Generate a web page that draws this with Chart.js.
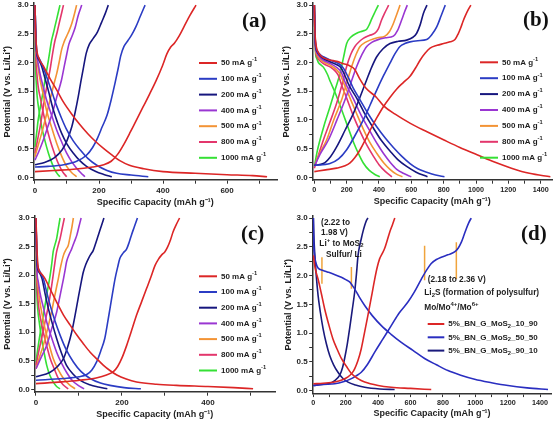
<!DOCTYPE html>
<html lang="en">
<head>
<meta charset="UTF-8">
<title>Charge / discharge profiles</title>
<script src="https://cdn.jsdelivr.net/npm/chart.js"></script>
<style>
  body { margin: 0; background: #fff; }
  canvas { position: absolute; }
</style>
</head>
<body>
<canvas id="chartA" width="278" height="210" style="left:0;top:0"></canvas>
<canvas id="chartB" width="278" height="210" style="left:278px;top:0"></canvas>
<canvas id="chartC" width="278" height="212" style="left:0;top:211px"></canvas>
<canvas id="chartD" width="278" height="212" style="left:278px;top:211px"></canvas>
<script>
// current densities (mA g-1), same order in every panel
const rates = ['50', '100', '200', '400', '500', '800', '1000'];
const rateColors = ['#dc2626', '#2b3cc4', '#16167e', '#9a36d2', '#f39335', '#e3366c', '#35e035'];

// curves are [capacity (mAh/g), potential (V)]
const aCharge = [
  [[0,0.10],[60,0.12],[120,0.14],[180,0.18],[215,0.22],[238,0.28],[258,0.40],[278,0.58],[298,0.79],[318,1.01],[338,1.23],[358,1.45],[378,1.68],[398,1.94],[412,2.15],[424,2.27],[436,2.34],[450,2.46],[466,2.63],[484,2.82],[503,3.0]],
  [[0,0.18],[40,0.19],[90,0.22],[130,0.28],[160,0.38],[180,0.52],[195,0.68],[210,0.88],[225,1.08],[238,1.35],[250,1.64],[260,1.90],[268,2.12],[278,2.28],[290,2.38],[302,2.48],[315,2.62],[330,2.82],[344,3.0]],
  [[0,0.22],[30,0.26],[60,0.34],[85,0.48],[100,0.64],[115,0.88],[125,1.12],[135,1.40],[143,1.66],[152,1.93],[160,2.16],[170,2.32],[182,2.42],[195,2.53],[208,2.70],[220,2.86],[229,3.0]],
  [[0,0.30],[12,0.45],[26,0.65],[40,0.88],[57,1.17],[70,1.44],[83,1.70],[92,1.95],[99,2.14],[106,2.32],[115,2.45],[125,2.60],[135,2.82],[146,3.0]],
  [[0,0.36],[10,0.56],[21,0.77],[34,1.05],[47,1.35],[58,1.60],[68,1.81],[76,2.02],[83,2.22],[91,2.36],[99,2.46],[107,2.56],[115,2.68],[123,2.84],[130,3.0]],
  [[0,0.42],[8,0.65],[16,0.88],[24,1.15],[31,1.40],[39,1.64],[47,1.87],[52,2.05],[57,2.22],[62,2.37],[68,2.50],[73,2.62],[78,2.74],[84,2.88],[89,3.0]],
  [[0,0.53],[5,0.76],[10,1.0],[18,1.26],[26,1.52],[34,1.78],[42,2.04],[47,2.22],[52,2.39],[57,2.50],[62,2.62],[68,2.76],[73,2.88],[78,3.0]]
];
const aDischarge = [
  [[0,3.0],[2,2.55],[5,2.25],[12,2.08],[26,1.94],[47,1.72],[70,1.50],[90,1.30],[115,1.10],[140,0.92],[165,0.76],[190,0.62],[215,0.50],[240,0.39],[265,0.29],[295,0.21],[340,0.15],[400,0.10],[500,0.07],[600,0.045],[680,0.03],[725,0.01]],
  [[0,3.0],[2,2.6],[5,2.2],[12,2.08],[21,1.98],[32,1.82],[42,1.66],[55,1.45],[68,1.24],[83,1.03],[99,0.83],[120,0.63],[141,0.48],[165,0.33],[193,0.21],[225,0.12],[255,0.07],[300,0.04],[354,0.01]],
  [[0,3.0],[2,2.6],[5,2.2],[12,2.05],[21,1.93],[30,1.75],[40,1.55],[57,1.18],[70,0.96],[83,0.77],[100,0.58],[120,0.42],[140,0.29],[161,0.19],[190,0.10],[215,0.05],[240,0.01]],
  [[0,3.0],[1,2.6],[5,2.16],[10,1.98],[16,1.80],[26,1.57],[36,1.35],[52,1.08],[68,0.82],[83,0.62],[99,0.42],[115,0.27],[130,0.16],[143,0.08],[156,0.01]],
  [[0,3.0],[1,2.6],[5,2.10],[10,1.90],[16,1.70],[26,1.44],[36,1.17],[52,0.87],[68,0.59],[84,0.36],[99,0.19],[115,0.08],[130,0.01]],
  [[0,3.0],[1,2.5],[3,2.04],[6,1.80],[10,1.58],[18,1.35],[26,1.12],[36,0.88],[47,0.65],[60,0.43],[73,0.24],[86,0.10],[99,0.01]],
  [[0,3.0],[1,2.4],[2,1.93],[4,1.65],[7,1.40],[13,1.15],[21,0.88],[31,0.64],[42,0.42],[52,0.26],[62,0.13],[70,0.06],[78,0.01]]
];

const bCharge = [
  [[0,0.10],[70,0.13],[138,0.16],[190,0.20],[221,0.25],[250,0.34],[283,0.48],[315,0.65],[345,0.82],[385,1.03],[427,1.23],[470,1.40],[510,1.54],[550,1.65],[592,1.76],[625,1.90],[654,2.04],[685,2.16],[716,2.25],[760,2.30],[800,2.33],[840,2.36],[870,2.40],[890,2.50],[905,2.60],[920,2.72],[935,2.82],[952,2.92],[968,3.0]],
  [[0,0.21],[97,0.24],[150,0.32],[200,0.48],[250,0.72],[303,1.0],[345,1.26],[386,1.52],[428,1.77],[468,1.99],[500,2.16],[530,2.28],[560,2.33],[592,2.36],[640,2.38],[695,2.40],[725,2.48],[757,2.62],[785,2.82],[810,3.0]],
  [[0,0.21],[56,0.24],[100,0.36],[138,0.53],[190,0.82],[241,1.11],[283,1.40],[324,1.70],[355,1.92],[386,2.10],[425,2.24],[468,2.33],[520,2.37],[571,2.39],[610,2.44],[633,2.51],[655,2.66],[675,2.86],[697,3.0]],
  [[0,0.19],[35,0.40],[87,0.65],[140,1.0],[190,1.35],[228,1.66],[262,1.93],[295,2.14],[324,2.28],[355,2.35],[386,2.39],[440,2.43],[489,2.46],[515,2.56],[540,2.74],[558,2.88],[575,3.0]],
  [[0,0.19],[30,0.40],[76,0.65],[120,1.0],[169,1.35],[200,1.64],[231,1.93],[258,2.14],[283,2.28],[315,2.35],[345,2.39],[390,2.43],[437,2.46],[465,2.54],[489,2.68],[510,2.84],[530,3.0]],
  [[0,0.16],[20,0.34],[56,0.65],[95,0.95],[138,1.29],[170,1.60],[200,1.93],[225,2.14],[251,2.28],[280,2.37],[303,2.42],[340,2.47],[375,2.51],[395,2.58],[416,2.74],[435,2.86],[460,3.0]],
  [[0,0.19],[10,0.34],[20,0.48],[35,0.65],[60,0.90],[97,1.23],[128,1.52],[159,1.81],[180,2.08],[200,2.33],[225,2.44],[262,2.51],[300,2.55],[324,2.58],[340,2.66],[355,2.76],[375,2.88],[396,3.0]]
];
const bDischarge = [
  [[0,3.0],[3,2.6],[10,2.32],[20,2.2],[46,2.1],[90,2.05],[138,2.02],[180,1.98],[221,1.94],[250,1.88],[280,1.72],[320,1.55],[382,1.40],[427,1.25],[500,1.10],[594,0.94],[700,0.79],[802,0.65],[900,0.52],[1010,0.39],[1110,0.27],[1219,0.16],[1330,0.07],[1460,0.01]],
  [[0,3.0],[3,2.6],[8,2.3],[15,2.22],[35,2.14],[56,2.10],[100,2.04],[138,2.0],[165,1.95],[185,1.88],[210,1.74],[240,1.56],[283,1.35],[330,1.12],[386,0.88],[440,0.68],[489,0.52],[540,0.37],[592,0.24],[640,0.15],[695,0.09],[750,0.04],[805,0.01]],
  [[0,3.0],[3,2.6],[8,2.28],[15,2.20],[35,2.12],[56,2.07],[100,2.01],[140,1.96],[165,1.91],[185,1.80],[215,1.60],[262,1.38],[310,1.12],[365,0.86],[415,0.64],[468,0.46],[520,0.30],[571,0.19],[630,0.09],[700,0.01]],
  [[0,3.0],[3,2.6],[8,2.25],[15,2.17],[35,2.09],[56,2.04],[100,1.98],[140,1.91],[165,1.84],[190,1.66],[241,1.37],[290,1.08],[345,0.80],[390,0.58],[427,0.42],[470,0.26],[510,0.14],[550,0.07],[600,0.01]],
  [[0,3.0],[3,2.6],[8,2.22],[15,2.14],[35,2.06],[56,2.01],[100,1.95],[135,1.88],[159,1.80],[185,1.62],[221,1.38],[260,1.12],[303,0.84],[345,0.60],[386,0.42],[430,0.25],[468,0.14],[505,0.06],[545,0.01]],
  [[0,3.0],[3,2.6],[8,2.20],[15,2.11],[35,2.03],[56,1.98],[100,1.92],[130,1.85],[148,1.78],[170,1.60],[200,1.38],[240,1.08],[283,0.80],[325,0.56],[365,0.37],[400,0.22],[440,0.10],[480,0.01]],
  [[0,3.0],[3,2.6],[8,2.15],[15,2.07],[25,2.0],[40,1.96],[56,1.92],[80,1.80],[100,1.66],[125,1.50],[150,1.32],[179,1.10],[210,0.86],[241,0.62],[272,0.42],[303,0.25],[340,0.12],[375,0.05],[405,0.01]]
];

const cCharge = [
  [[0,0.10],[60,0.13],[102,0.16],[140,0.20],[164,0.25],[180,0.31],[190,0.40],[200,0.55],[211,0.77],[222,1.02],[234,1.30],[246,1.54],[257,1.76],[268,1.98],[277,2.17],[285,2.28],[292,2.35],[300,2.41],[306,2.49],[313,2.62],[319,2.76],[326,2.88],[334,3.0]],
  [[0,0.16],[64,0.19],[100,0.22],[118,0.26],[130,0.34],[141,0.48],[151,0.68],[160,0.89],[166,1.14],[172,1.41],[178,1.68],[184,1.94],[190,2.14],[195,2.29],[203,2.39],[211,2.46],[217,2.58],[222,2.70],[229,2.85],[236,3.0]],
  [[0,0.22],[33,0.30],[50,0.40],[64,0.54],[74,0.75],[83,1.0],[91,1.30],[98,1.59],[104,1.83],[110,2.05],[116,2.19],[122,2.29],[128,2.37],[133,2.43],[139,2.56],[145,2.70],[152,2.86],[158,3.0]],
  [[0,0.36],[12,0.56],[25,0.77],[36,1.05],[48,1.35],[56,1.64],[64,1.94],[68,2.10],[71,2.23],[77,2.36],[83,2.46],[89,2.58],[95,2.70],[100,2.85],[105,3.0]],
  [[0,0.36],[8,0.56],[17,0.77],[27,1.06],[36,1.35],[44,1.65],[52,1.94],[58,2.17],[64,2.35],[70,2.45],[75,2.52],[80,2.70],[84,2.86],[87,3.0]],
  [[0,0.42],[6,0.65],[13,0.89],[21,1.18],[29,1.47],[35,1.74],[40,2.0],[44,2.22],[48,2.41],[52,2.53],[56,2.64],[61,2.82],[66,3.0]],
  [[0,0.48],[4,0.70],[9,0.95],[15,1.21],[21,1.47],[27,1.74],[33,2.0],[37,2.22],[40,2.41],[44,2.53],[48,2.64],[52,2.82],[56,3.0]]
];
const cDischarge = [
  [[0,3.0],[2,2.5],[5,2.14],[12,2.03],[21,1.94],[30,1.80],[40,1.65],[52,1.47],[64,1.30],[80,1.12],[95,0.95],[110,0.80],[126,0.65],[142,0.53],[157,0.42],[172,0.33],[188,0.25],[210,0.18],[234,0.13],[280,0.09],[327,0.07],[400,0.05],[460,0.03],[505,0.01]],
  [[0,3.0],[1,2.6],[3,2.23],[8,2.08],[17,1.94],[25,1.70],[33,1.47],[44,1.20],[56,0.95],[70,0.70],[87,0.48],[105,0.31],[126,0.19],[150,0.11],[172,0.07],[205,0.03],[244,0.01]],
  [[0,3.0],[1,2.6],[3,2.17],[8,2.04],[14,1.94],[21,1.68],[29,1.41],[38,1.15],[48,0.89],[59,0.64],[71,0.42],[86,0.27],[102,0.16],[125,0.08],[145,0.04],[166,0.01]],
  [[0,3.0],[1,2.6],[2,2.11],[5,1.90],[9,1.70],[17,1.44],[25,1.18],[36,0.91],[48,0.65],[60,0.45],[71,0.30],[85,0.15],[98,0.07],[112,0.01]],
  [[0,3.0],[1,2.5],[2,2.05],[5,1.80],[8,1.59],[14,1.32],[21,1.06],[30,0.80],[40,0.54],[52,0.34],[64,0.19],[78,0.08],[91,0.01]],
  [[0,3.0],[1,2.4],[1.5,2.0],[3,1.76],[5,1.53],[10,1.26],[17,1.0],[25,0.76],[33,0.54],[43,0.35],[52,0.19],[63,0.08],[75,0.01]],
  [[0,3.0],[0.5,2.4],[1,1.94],[2,1.68],[4,1.41],[8,1.15],[13,0.89],[19,0.64],[25,0.42],[32,0.25],[40,0.13],[48,0.05],[56,0.01]]
];

// panel (d): composites 10_90, 50_50, 90_10
const dSamples = ['10_90', '50_50', '90_10'];
const dColors = ['#dc2626', '#2a2ec0', '#1a1a7c'];
const dCharge = [
  [[0,0.12],[60,0.13],[132,0.15],[180,0.19],[214,0.24],[240,0.31],[255,0.38],[275,0.52],[296,0.73],[316,1.01],[337,1.31],[358,1.62],[379,1.94],[394,2.14],[409,2.29],[425,2.38],[440,2.47],[455,2.60],[471,2.75],[488,2.88],[503,3.0]],
  [[0,0.09],[60,0.11],[132,0.12],[190,0.16],[235,0.21],[265,0.26],[296,0.32],[335,0.46],[379,0.67],[430,0.90],[481,1.13],[530,1.35],[584,1.54],[625,1.72],[667,1.94],[700,2.10],[728,2.21],[760,2.28],[790,2.32],[830,2.36],[872,2.41],[895,2.48],[914,2.58],[930,2.70],[944,2.81],[960,2.92],[975,3.0]],
  [[0,0.09],[50,0.11],[91,0.12],[130,0.17],[163,0.27],[180,0.40],[193,0.56],[209,0.80],[224,1.08],[240,1.40],[255,1.71],[266,2.02],[276,2.35],[286,2.52],[296,2.64],[306,2.76],[317,2.87],[327,2.95],[337,3.0]]
];
const dDischarge = [
  [[0,2.35],[8,2.18],[15,2.08],[29,1.94],[50,1.68],[70,1.42],[95,1.15],[121,0.90],[147,0.72],[173,0.56],[205,0.42],[235,0.30],[275,0.21],[317,0.15],[400,0.09],[481,0.06],[600,0.04],[728,0.02]],
  [[0,3.0],[2,2.6],[5,2.42],[10,2.3],[18,2.2],[29,2.13],[60,2.09],[91,2.06],[130,2.02],[173,1.97],[200,1.93],[224,1.89],[240,1.83],[255,1.77],[285,1.62],[317,1.48],[365,1.30],[420,1.13],[480,0.98],[543,0.84],[615,0.70],[687,0.56],[760,0.45],[831,0.35],[910,0.27],[996,0.20],[1100,0.14],[1202,0.09],[1320,0.05],[1449,0.02]],
  [[0,3.0],[3,2.7],[8,2.41],[18,2.0],[29,1.66],[44,1.35],[60,1.08],[80,0.82],[101,0.61],[125,0.45],[152,0.32],[180,0.22],[214,0.15],[260,0.10],[317,0.06],[410,0.03],[502,0.02]]
];
// plateau markers: [capacity, V low, V high]
const dMarkers = [[53, 1.86, 2.32], [235, 1.77, 2.15], [687, 1.92, 2.52], [883, 1.94, 2.58]];
// annotation anchors [capacity, V] and their texts (0 normal, 1 superscript, -1 subscript)
const dNoteAt = [[48, 2.91], [48, 2.74], [37, 2.56], [78, 2.36], [706, 1.93], [685, 1.70], [685, 1.45]];
const dNoteText = [
  [['(2.22 to', 0]],
  [['1.98 V)', 0]],
  [['Li', 0], ['+', 1], [' to MoS', 0], ['2', -1]],
  [['Sulfur/ Li', 0]],
  [['(2.18 to 2.36 V)', 0]],
  [['Li', 0], ['2', -1], ['S (formation of polysulfur)', 0]],
  [['Mo/Mo', 0], ['4+', 1], ['/Mo', 0], ['6+', 1]]
];

const FONT = '"Liberation Sans", Arial, sans-serif';
const INK = '#1e1e1e';

function drawRich(ctx, x, y, parts, size) {
  ctx.textBaseline = 'middle';
  ctx.textAlign = 'left';
  ctx.fillStyle = INK;
  for (const [txt, mode] of parts) {
    const s = mode ? size * 0.72 : size;
    ctx.font = 'bold ' + s + 'px ' + FONT;
    const dy = mode === 1 ? -size * 0.4 : (mode === -1 ? size * 0.3 : 0);
    ctx.fillText(txt, x, y + dy);
    x += ctx.measureText(txt).width;
  }
}

// legend, panel tag and text notes
const deco = {
  id: 'deco',
  afterDraw(chart, args, o) {
    const ctx = chart.ctx;
    ctx.save();
    o.items.forEach((it, i) => {
      const y = o.y0 + i * o.step;
      ctx.strokeStyle = it.color;
      ctx.lineWidth = 2;
      ctx.beginPath();
      ctx.moveTo(o.x0, y);
      ctx.lineTo(o.x0 + o.len, y);
      ctx.stroke();
      drawRich(ctx, o.x0 + o.len + 4, y, it.parts, 8);
    });
    (o.notes || []).forEach((n) => {
      drawRich(ctx, chart.scales.x.getPixelForValue(n.at[0]), chart.scales.y.getPixelForValue(n.at[1]), n.parts, 8.3);
    });
    ctx.font = 'bold 21px "Liberation Serif", "Times New Roman", serif';
    ctx.fillStyle = '#111';
    ctx.textBaseline = 'middle';
    ctx.textAlign = 'left';
    ctx.fillText(o.tag, o.tagX, o.tagY);
    ctx.restore();
  }
};

function toXY(pts) { return pts.map(p => ({ x: p[0], y: p[1] })); }

function curveSets(charge, discharge, colors) {
  const out = [];
  colors.forEach((c, i) => {
    out.push({ data: toXY(discharge[i]), borderColor: c });
    out.push({ data: toXY(charge[i]), borderColor: c });
  });
  return out;
}

function rateItems() {
  return rates.map((r, i) => ({ color: rateColors[i], parts: [[r + ' mA g', 0], ['-1', 1]] }));
}

function zeroPad(s) { s.paddingLeft = s.paddingRight = s.paddingTop = s.paddingBottom = 0; }

function makeChart(id, p) {
  const el = document.getElementById(id);
  const W = el.width, H = el.height;
  const tickFont = { family: FONT, size: 8, weight: 'bold' };
  const titleFont = { family: FONT, size: 9, weight: 'bold' };
  return new Chart(el, {
    type: 'line',
    data: { datasets: p.datasets },
    options: {
      responsive: false,
      animation: false,
      devicePixelRatio: 1,
      layout: { autoPadding: false, padding: { left: 0, top: p.area[1], right: W - p.area[2], bottom: 0 } },
      elements: {
        point: { radius: 0 },
        line: { borderWidth: 1.6, cubicInterpolationMode: 'monotone', fill: false }
      },
      plugins: { legend: { display: false }, tooltip: { enabled: false }, deco: p.deco },
      scales: {
        x: {
          type: 'linear',
          min: p.xMin, max: p.xMax,
          afterFit(s) { s.height = H - p.area[3]; zeroPad(s); },
          ticks: {
            stepSize: 100, includeBounds: false, autoSkip: false, maxRotation: 0, padding: 2,
            color: INK, font: { ...tickFont, size: p.xTickSize },
            callback: v => (Math.round(v) % 200 === 0 ? String(Math.round(v)) : '')
          },
          grid: { drawOnChartArea: false, tickLength: 3.5, color: '#333', tickWidth: 1 },
          border: { color: '#333', width: 1.5 },
          title: { display: true, text: 'Specific Capacity (mAh g\u207B\u00B9)', color: INK, font: titleFont, padding: { top: 0, bottom: p.xTitlePad } }
        },
        y: {
          min: -0.05, max: 3.035,
          afterFit(s) { s.width = p.area[0]; zeroPad(s); },
          ticks: {
            stepSize: 0.25, includeBounds: false, autoSkip: false, padding: 1.5,
            color: INK, font: tickFont,
            callback: v => (Math.round(v * 100) % 50 === 0 ? v.toFixed(1) : '')
          },
          grid: { drawOnChartArea: false, tickLength: 3.5, color: '#333', tickWidth: 1 },
          border: { color: '#333', width: 1.5 },
          title: { display: true, text: 'Potential (V vs. Li/Li\u207A)', color: INK, font: titleFont, padding: { top: p.yTitlePad, bottom: 0 } }
        }
      }
    },
    plugins: [deco]
  });
}

makeChart('chartA', {
  datasets: curveSets(aCharge, aDischarge, rateColors),
  area: [33.7, 3.1, 277, 180.2], xMin: -4, xMax: 756, xTickSize: 8,
  xTitlePad: 1.9, yTitlePad: 1.9,
  deco: { items: rateItems(), x0: 199, len: 18, y0: 63, step: 15.8, tag: '(a)', tagX: 242, tagY: 22 }
});

makeChart('chartB', {
  datasets: curveSets(bCharge, bDischarge, rateColors),
  area: [34.7, 3.1, 274, 180.2], xMin: -10, xMax: 1470, xTickSize: 7.2,
  xTitlePad: 2.9, yTitlePad: 3.6,
  deco: { items: rateItems(), x0: 202, len: 18, y0: 62.3, step: 15.9, tag: '(b)', tagX: 245, tagY: 21 }
});

makeChart('chartC', {
  datasets: curveSets(cCharge, cDischarge, rateColors),
  area: [34.7, 5.0, 275, 181.2], xMin: -3, xMax: 556, xTickSize: 8,
  xTitlePad: 2.6, yTitlePad: 1.9,
  deco: { items: rateItems(), x0: 199, len: 18, y0: 65.3, step: 15.7, tag: '(c)', tagX: 241, tagY: 24 }
});

const dSets = curveSets(dCharge, dDischarge, dColors);
dMarkers.forEach(m => {
  dSets.push({ data: [{ x: m[0], y: m[1] }, { x: m[0], y: m[2] }], borderColor: '#f0a43c', borderWidth: 1.5, cubicInterpolationMode: 'default', tension: 0 });
});
makeChart('chartD', {
  datasets: dSets,
  area: [34.7, 5.0, 273.4, 182.6], xMin: -4, xMax: 1470, xTickSize: 7.2,
  xTitlePad: 4.3, yTitlePad: 5.3,
  deco: {
    items: dSamples.map((s, i) => ({ color: dColors[i], parts: [['5%_BN_G_MoS', 0], ['2', -1], ['_' + s, 0]] })),
    x0: 149.7, len: 16.6, y0: 113, step: 13.3, tag: '(d)', tagX: 243, tagY: 24,
    notes: dNoteAt.map((a, i) => ({ at: a, parts: dNoteText[i] }))
  }
});
</script>
</body>
</html>
